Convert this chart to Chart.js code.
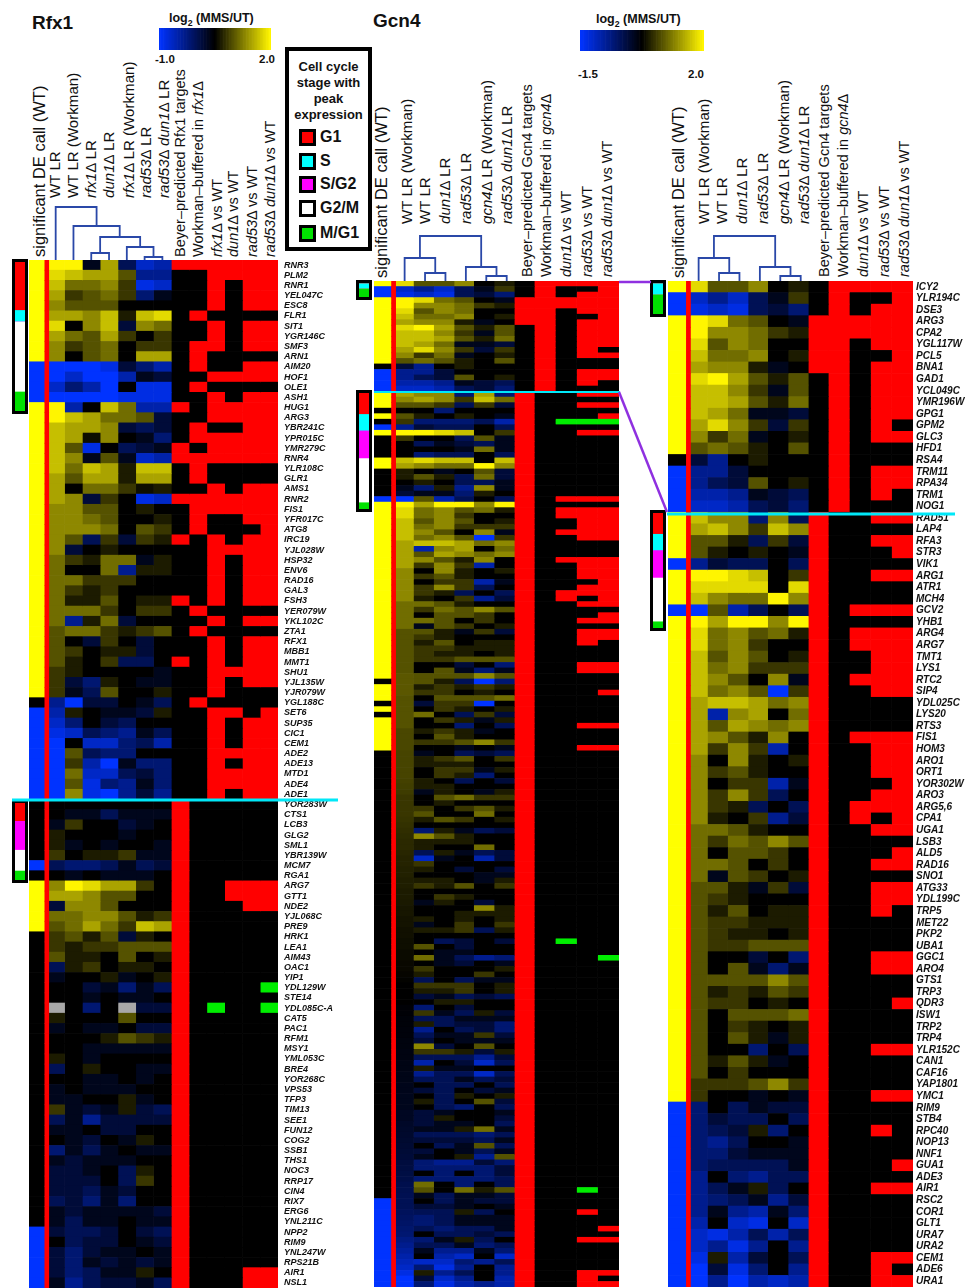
<!DOCTYPE html>
<html>
<head>
<meta charset="utf-8">
<title>Rfx1 / Gcn4</title>
<script src="https://cdn.jsdelivr.net/npm/chart.js@4"></script>
<style>
html, body { margin: 0; width: 965px; height: 1288px; overflow: hidden; background: #fff; }
body { position: relative; font-family: "Liberation Sans", Arial, sans-serif; color: #111; }
canvas { position: absolute; }
.txt { position: absolute; white-space: nowrap; }
.bold { font-weight: bold; }
.rot { position: absolute; white-space: nowrap; transform-origin: 0 0; transform: rotate(-90deg) translateY(-50%); font-size: 14.5px; color: #111; }
.frame { position: absolute; background: #000; }
#keybox { position: absolute; left: 285px; top: 47px; width: 79px; height: 196px; border: 4px solid #000; background: #fff; }
#keybox .head { text-align: center; font-weight: bold; font-size: 13px; line-height: 16px; margin-top: 8px; }
.sw { position: absolute; left: 299px; width: 11px; height: 11px; border: 3px solid #000; }
sub { font-size: 70%; line-height: 0; }
#overlay { position: absolute; left: 0; top: 0; }
</style>
</head>
<body>

<div class="txt bold" style="left:32px;top:12px;font-size:19px">Rfx1</div>
<div class="txt bold" style="left:373px;top:10px;font-size:19px">Gcn4</div>
<div class="txt bold" style="left:169px;top:11px;font-size:12.5px">log<sub>2</sub> (MMS/UT)</div>
<div class="txt bold" style="left:596px;top:12px;font-size:12.5px">log<sub>2</sub> (MMS/UT)</div>
<div class="txt bold" style="left:155px;top:53px;font-size:11.5px">-1.0</div>
<div class="txt bold" style="left:259px;top:53px;font-size:11.5px">2.0</div>
<div class="txt bold" style="left:578px;top:68px;font-size:11.5px">-1.5</div>
<div class="txt bold" style="left:688px;top:68px;font-size:11.5px">2.0</div>

<div id="keybox"><div class="head">Cell cycle<br>stage with<br>peak<br>expression</div></div>
<div id="labels"></div>

<script>
// shade steps: +9 = top of the colour bar, -9 = bottom, null = missing (grey)
const rfxGenes = ["RNR3","PLM2","RNR1","YEL047C","ESC8","FLR1","SIT1","YGR146C","SMF3","ARN1","AIM20","HOF1","OLE1","ASH1","HUG1","ARG3","YBR241C","YPR015C","YMR279C","RNR4","YLR108C","GLR1","AMS1","RNR2","FIS1","YFR017C","ATG8","IRC19","YJL028W","HSP32","ENV6","RAD16","GAL3","FSH3","YER079W","YKL102C","ZTA1","RFX1","MBB1","MMT1","SHU1","YJL135W","YJR079W","YGL188C","SET6","SUP35","CIC1","CEM1","ADE2","ADE13","MTD1","ADE4","ADE1",
  "YOR283W","CTS1","LCB3","GLG2","SML1","YBR139W","MCM7","RGA1","ARG7","GTT1","NDE2","YJL068C","PRE9","HRK1","LEA1","AIM43","OAC1","YIP1","YDL129W","STE14","YDL085C-A","CAT5","PAC1","RFM1","MSY1","YML053C","BRE4","YOR268C","VPS53","TFP3","TIM13","SEE1","FUN12","COG2","SSB1","THS1","NOC3","RRP17","CIN4","RIX7","ERG6","YNL211C","NPP2","RIM9","YNL247W","RPS21B","AIR1","NSL1"];

const rfxCalls = "YYYYYYYYYYBBBBYYYYYYYYYYYYYYYYYYYYYYYYYYYYYKBBBBBBBBB" + "KKKKKKBKYYYYYKKKKKKKKKKKKKKKKKKKKKKKKKKKKKBBBBBB";

const rfxLR = [
[9,9,-1,6,-3,-7,-6],[8,7,6,6,3,-5,-5],[7,4,4,5,2,-8,-7],[6,2,3,4,2,-4,-1],[5,3,3,3,0,0,0],
[6,6,5,7,1,7,8],[8,0,5,7,-2,5,4],[6,4,3,6,2,0,2],[5,2,3,4,0,2,2],[5,0,3,4,0,6,6],
[-9,-9,-9,-8,-2,-4,-6],[-9,-7,-9,-9,-6,-1,-2],[-7,-4,-6,-9,0,-8,-8],[-9,-9,-9,-9,-8,-8,-8],[9,-6,0,7,4,-6,-6],
[9,7,6,4,4,3,-2],[7,6,6,5,-2,-3,-2],[7,6,.5,5,0,-1,-4],[7,3,-8,0,-3,-2,-1],[7,5,-1,3,-1,-7,-6],
[7,4,7,6,1,7,7],[6,3,6,6,1,6,6],[6,0,4,4,2,.5,1],[6,5,-2,2,0,-8,-7],[5,5,3,3,0,1,0],
[5,5,4,3,0,0,1],[5,5,5,4,0,3,2],[5,3,-3,2,-2,2,1],[5,-2,0,1,0,0,0],[4,2,1,4,4,-1,1],
[4,0,0,4,-5,1,1],[4,4,2,2,2,0,0],[4,2,1,2,0,0,0],[4,1,1,3,0,1,1],[4,4,4,2,0,2,2],
[4,-5,1,4,-2,0,0],[3,4,4,2,1,2,3],[3,0,-2,2,0,-2,0],[3,2,0,1,1,-2,0],[3,1,0,2,-3,-3,0],
[2,1,0,0,0,0,-1],[2,-2,-4,1,0,-1,-1],[2,-1,-3,3,0,0,1],[-5,-9,-2,-2,0,-1,-3],[-6,1,0,-1,-1,-2,1],
[-7,-4,0,-2,-3,0,0],[-8,-7,-3,-4,-5,-1,-3],[-9,0,-7,-7,-4,-3,-6],[-9,3,-3,-4,-4,0,0],[-9,2,-6,-9,-1,-4,-4],
[-9,4,-7,-7,-3,-2,-4],[-9,3,-8,-4,-5,-1,-4],[-9,5,-8,-9,-5,-2,-5],
[0,0,0,0,0,0,0],[0,-1,-1,-3,-1,-1,-1],[-1,2,0,0,-2,-1,0],[1,0,0,0,-1,0,0],[1,-1,0,-1,0,0,-1],
[2,0,1,1,2,-1,-1],[-3,-4,-4,-3,-1,-3,-2],[0,-1,0,-1,-1,-1,0],[5,9,8,6,6,2,0],[6,6,5,3,3,0,0],
[-2,5,5,3,0,0,0],[4,4,5,5,3,1,2],[3,4,6,4,2,7,6],[2,3,1,3,-2,1,0],[2,1,2,2,3,3,3],
[3,1,1,0,3,0,1],[-3,1,2,0,1,1,0],[-1,0,0,1,-1,0,1],[0,0,-2,-1,-4,-1,-3],[0,0,-1,0,-1,-1,0],
[null,0,-4,0,null,-2,-2],[1,0,0,0,3,0,0],[-1,0,-1,-1,0,-2,-2],[0,0,0,1,3,2,1],[0,0,-1,-1,-1,-1,-1],
[1,0,-1,0,0,0,0],[-3,0,1,0,0,-1,-1],[0,0,-1,-1,0,-1,0],[-1,0,-1,-1,-1,0,0],[-1,-1,0,0,1,-1,0],
[2,-1,-2,-1,1,-2,-3],[-3,-1,-5,-2,-2,-2,-2],[-1,-1,0,-2,-2,0,0],[0,-1,-2,0,-1,1,0],[-4,-1,-3,-1,0,-1,-1],
[-1,-2,-1,-1,-1,0,0],[-2,-2,-1,0,-3,1,0],[-2,-2,-2,0,-3,2,0],[-2,-2,-3,-1,-2,0,0],[-3,-2,-4,-1,-4,0,0],
[-1,-2,-1,-1,-1,-1,-2],[-1,-3,-1,-1,0,-1,-1],[-2,-3,-3,-2,0,-2,-3],[0,-3,-2,-2,0,-1,-2],[-2,-4,-2,-1,-1,0,-1],
[-2,-4,-1,-2,-1,-2,-1],[-2,-4,-3,-1,-1,1,0],[-1,-5,-3,-2,-2,-1,-3]
];

// Beyer, Workman, rfx1 vs WT, dun1 vs WT, rad53 vs WT, rad53 dun1 vs WT: 0 none, 1 red, 2 green
const rfxFlags = ["111111","001111","001011","001011","001011","010000","001011","001011","011011","010000","010011","001111","010000","001011","101111","001111","010011","011111","101111","111111","010000","010000","001011","111111","011111","010011","010001","101011","001111","001011","001011","001011","001011","101011","010000","001011","010000","001011","001011","101011","001111","001011","001000","010000","001101","001011","001011","001011","001111","001011","001111","001111","001011",
  "100000","100000","100000","100000","100000","100000","100000","100000","100111","100111","100011","100000","100000","100000","100000","100000","100000","100000","100002","100000","102002","100000","100000","100000","100000","100000","100000","100000","100000","100000","100000","100000","100000","100000","100000","100000","100000","100000","100000","100000","100000","100000","100000","100000","100000","100000","100011","100011"];

const gcnGenes = ["ICY2","YLR194C","DSE3","ARG3","CPA2","YGL117W","PCL5","BNA1","GAD1","YCL049C","YMR196W","GPG1","GPM2","GLC3","HFD1","RSA4","TRM11","RPA34","TRM1","NOG1",
  "RAD51","LAP4","RFA3","STR3","VIK1","ARG1","ATR1","MCH4","GCV2","YHB1","ARG4","ARG7","TMT1","LYS1","RTC2","SIP4","YDL025C","LYS20","RTS3","FIS1","HOM3","ARO1","ORT1","YOR302W","ARO3","ARG5,6","CPA1","UGA1","LSB3","ALD5","RAD16","SNO1","ATG33","YDL199C","TRP5","MET22","PKP2","UBA1","GGC1","ARO4","GTS1","TRP3","QDR3","ISW1","TRP2","TRP4","YLR152C","CAN1","CAF16","YAP1801","YMC1","RIM9","STB4","RPC40","NOP13","NNF1","GUA1","ADE3","AIR1","RSC2","COR1","GLT1","URA7","URA2","CEM1","ADE6","URA1"];

const gcnCalls = "YBBYYYYYYYYYYYYKBBBB" + "YYYYBYYYB" + "YYYYYYYYYYYYYYYYYYYYYYYYYYYYYYYYYYYYYYYYYY" + "BBBBBBBBBBBBBBBB";

const gcnLR = [
[8,3,3,5,0,1],[-7,-5,-7,-3,-1,2],[-8,-7,-8,-3,-2,-4],[9,8,4,3,0,-1],[9,5,5,4,2,1],
[8,3,5,4,0,0],[7,4,4,5,0,1],[6,5,5,1,-1,0],[8,9,6,3,1,3],[7,7,5,2,-1,3],
[7,7,6,3,1,4],[7,6,4,-1,-1,-2],[6,8,5,2,-2,2],[5,2,4,-1,0,1],[3,4,3,1,0,3],
[-2,-5,0,1,0,0],[-5,-5,-2,0,0,0],[-5,-3,-2,3,0,1],[-6,-6,-5,-1,-2,-3],[-7,-7,-6,-3,-2,-4],
[7,5,5,-4,5,-3],[6,7,5,2,7,5],[3,3,1,-3,2,-2],[3,1,0,1,0,-1],[-5,-2,-3,-3,0,-3],
[9,9,8,7,0,2],[8,8,8,8,0,8],[7,5,4,4,9,5],[-9,3,-6,-3,0,-3],[9,6,9,9,5,9],
[8,4,5,3,4,1],[8,4,5,2,0,0],[7,3,5,3,0,1],[7,4,5,2,2,2],[7,5,3,0,5,-1],
[7,4,5,3,-9,2],[6,7,7,6,4,5],[6,-6,5,6,0,4],[6,3,6,5,4,5],[6,5,3,1,5,0],
[6,2,5,2,-6,0],[5,0,5,1,0,1],[5,2,3,1,0,0],[5,0,2,2,-6,-1],[5,2,5,2,-3,0],
[5,2,1,-3,0,-3],[5,1,0,2,-5,-2],[4,4,3,1,0,0],[4,2,4,3,5,3],[4,0,3,3,2,0],
[4,4,3,0,2,0],[4,-1,3,2,0,1],[3,3,1,-1,2,-2],[3,2,1,0,0,0],[3,1,3,0,1,1],
[3,2,2,1,1,1],[3,2,1,1,0,1],[3,2,2,3,3,3],[3,0,0,-2,0,-4],[3,0,3,-1,-4,-1],
[3,3,3,3,5,3],[3,1,2,1,3,2],[3,2,2,0,1,0],[3,0,3,3,3,4],[3,0,2,1,0,1],
[3,0,3,1,-1,1],[3,0,0,-4,0,-3],[3,1,3,1,-1,0],[3,0,2,0,0,0],[2,2,2,3,5,2],
[2,0,0,-1,0,-1],[-4,0,-3,-1,-2,-2],[-4,-2,-3,-3,0,-3],[-4,-3,-2,1,-4,0],[-4,-5,-3,0,0,-1],
[-4,-4,-2,-1,-1,-1],[-4,-3,-3,-3,-3,-1],[-5,0,-4,-5,-3,-3],[-5,-3,-1,1,-3,0],[-5,-4,-3,-1,-5,-2],
[-5,-1,-5,-6,-1,-4],[-6,0,-7,-8,0,-7],[-7,-8,-6,-3,-6,-3],[-7,-5,-8,-5,0,-5],[-8,1,-6,-2,0,-3],
[-9,-2,-8,-4,0,-5],[-9,-5,-9,-6,-7,-6]
];

// Beyer, Workman, dun1 vs WT, rad53 vs WT, rad53 dun1 vs WT
const gcnFlags = ["01111","01001","01011","11111","11111","11011","11001","11011","01011","01011","01011","01011","01010","01011","01000","01000","01011","01011","01010","01000",
  "10011","10000","10011","10001","10000","10011","10000","10000","10111","10000","10111","10111","10011","10011","10111","10011","10000","10000","10000","10111","10011","10011","10011","10001","10011","10111","10101","10011","10000","10001","10011","10000","10011","10011","10010","10000","10000","10000","10011","10011","10000","10000","10001","10000","10000","10000","10011","10000","10000","10000","10011","10000","10000","10010","10000","10000","10001","10000","10011","10000","10000","10000","10000","10000","10011","10010","10011"];

// rows of the long Gcn4 column that are not repeated in the enlarged one
const overviewMidCalls = "YYYKYKBYKKKKYYKKKKKB";
const overviewMidLR = [
[6,5,5,-4,6,-4],[5,6,5,2,7,4],[3,3,2,-3,2,-2],[0,0,-4,0,0,0],[3,1,0,1,0,-1],
[2,-4,-4,-4,-3,-6],[-5,-2,-3,-3,0,-3],[9,9,8,7,0,2],[2,0,0,-3,3,-1],[0,-3,-1,-2,-3,-1],
[0,0,0,-1,4,-1],[0,-4,-3,-3,0,-3],[7,8,7,7,0,7],[6,5,4,4,9,5],[1,0,-1,0,3,-2],
[1,3,1,-3,4,-2],[0,1,0,-3,-3,-1],[-1,-4,1,-5,5,-1],[-2,-1,-1,-4,1,0],[-9,3,-6,-3,0,-3]
];
const overviewMidFlags = ["10011","10000","10011","10000","10001","10222","10000","10011","10000","10000","10000","10000","10000","10000","10000","10000","10000","10000","10000","10111"];

const overviewRestCalls = "YKYYYKYKYYYYYY" + "K".repeat(81) + "B".repeat(16);
const overviewRestLR = [
[3.2,3,3,3,5,3],[3.2,3,1,-3,-9,-4],[3.2,1,2,1,2,1],[3.2,2,2,0,1,0],[3,0,3,3,3,4],
[3,-2,2,2,-9,0],[3,0,2,1,0,1],[3,4,0,-3,2,-2],[3,0,2,1,-1,1],[3,0,0,-4,0,-3],
[2.6,1,2,1,-1,0],[2.6,0,3,1,0,0],[2.6,2,2,3,5,2],[2.6,0,0,-1,0,-1],[2.5,-1,0,-3,-2,-3],
[2.5,1,2,3,0,2],[2.5,1,1,1,0,0],[2.5,0,2,2,-1,1],[2.5,0,2,1,-4,0],[2.4,1,0,-3,0,-2],
[2.3,1,1,0,0,0],[2.2,-1,1,0,-1,1],[2,0,3,4,2,2],[2,0,1,0,0,0],[2,2,0,2,3,1],
[2,3,0,0,4,0],[1.9,1,3,2,0,1],[1.8,0,0,0,0,0],[1.7,-4,1,-1,-3,-2],[1.6,5,3,1,0,0],
[1.5,1,1,1,0,0],[1.5,1,0,0,4,0],[1.4,-3,1,-1,-3,-2],[1.3,-7,-1,0,-6,-2],[1.3,2,0,0,0,0],
[1.2,1,0,-2,0,-2],[1.2,0,0,0,-1,-1],[1.1,1,1,0,-1,1],[1.1,2,1,3,0,2],[1,0,0,0,0,0],
[1,0,2,1,0,0],[.9,-1,1,0,-2,0],[.8,0,0,0,5,1],[.8,0,0,1,1,1],[.7,1,0,1,0,1],
[.7,-1,0,2,0,2],[.6,1,1,2,-3,1],[.6,0,0,0,0,0],[.5,0,-3,-2,0,-2],[.5,3,0,-2,0,0],
[.4,0,-1,-1,0,0],[.4,4,-1,-3,-5,-4],[.3,0,-1,-2,0,-1],[.3,2,0,0,0,1],[.2,1,0,0,2,0],
[.1,-3,0,-3,-1,-1],[0,2,2,2,0,1],[0,1,1,2,0,1],[0,-2,-1,-3,-2,-3],[0,0,1,1,0,0],
[-.2,-4,0,-2,0,0],[-.2,2,-1,-3,1,-2],[-.3,-3,-3,-1,-1,-1],[-.3,1,-3,-2,-2,-4],[-.4,-5,0,-3,-2,-4],
[-.4,-3,-1,-1,2,-2],[-.5,-2,0,-1,-1,-1],[-.5,5,-2,0,3,0],[-.6,2,2,1,-2,1],[-.6,-3,-3,-3,-5,-2],
[-.7,-6,0,-2,-7,-3],[-.7,1,-1,-1,0,0],[-.8,-5,-3,-3,-7,-3],[-.8,-3,-3,-1,-3,-2],[-.9,0,-3,-3,0,-3],
[-.9,-2,-3,0,-2,-1],[-1,0,-3,1,0,1],[-1,1,-3,0,3,-2],[-1,0,-3,-4,0,-3],[-1.2,-2,-1,0,0,-1],
[-1.2,-2,1,0,0,-2],[-1.4,-2,-1,-1,0,-3],[-1.5,-1,-1,1,4,-1],[-1.6,-3,-3,-3,-4,-3],[-1.7,-2,-2,-2,-3,-1],
[-1.8,0,-3,-1,3,-3],[-1.9,-2,0,-1,-3,-1],[-2,-1,0,1,-5,3],[-2.2,-4,-5,-5,-2,-4],[-2.3,-4,-4,-4,-4,-2],
[-2.4,0,-4,0,-4,-2],[-2.5,-4,-4,-4,-4,-3],[-2.7,4,0,-4,0,-3],[-2.8,3,0,4,1,3],[-2.9,-1,-3,-1,-1,-2],
[-3,0,-3,-1,-2,-2],[-3,-2,-2,-1,0,-1],[-3.2,-3,-3,1,-3,0],[-3.4,-4,-3,-1,-1,-1],[-3.6,-4,-3,-1,-1,-1],
[-3.8,-3,-4,-3,-3,-1],[-4,0,-3,-3,-2,-3],[-4.5,-4,-1,1,-3,0],[-5,-3,-3,-1,-4,-3],[-5.5,-1,-5,-5,-1,-4],
[-6,0,-6,-7,0,-7],[-6.5,-7,-7,-4,-5,-3],[-7,-4,-8,-5,0,-5],[-8,1,-5,-3,0,-5],[-9,-2,-7,-5,0,-6],
[-9,-4,-8,-6,-5,-6]
];
// row number in the long column -> flags, every other row is "10000"
const overviewRestHits = {74:"10001",80:"10011",84:"10011",119:"10200",122:"10002",164:"10020",168:"10010",171:"10001",173:"10011",179:"10011",180:"10010",181:"10011"};

// genes per stage: G1, S, S/G2, G2/M, M/G1
const stageRfxTop = [17,4,0,25,7];
const stageRfxBottom = [11,0,18,13,6];
const stageGcnTop = [0,7,0,0,13];
const stageGcnBottom = [24,19,32,51,8];

// dendrograms: [left x, left height, right x, right height, top] in column units
const dendroRfx = [[6.5,0,7.5,0,3],[5.5,0,7,3,13],[3.5,0,4.5,0,7],[4,7,6.25,13,23],[2.5,0,5.1,23,34],[1.5,0,3.8,34,53]];
const dendroGcn = [[2.5,0,3.5,0,8],[1.5,0,3,8,23],[5.5,0,6.5,0,5],[4.5,0,6,5,14],[2.25,23,5.25,14,45]];

const rfxColumnLabels = [
  ["significant DE call (WT)",39,257,16.5],["WT LR",54,198,15.1],["WT LR (Workman)",72,198,15.1],["<i>rfx1</i>Δ LR",90,198,15.1],["<i>dun1</i>Δ LR",108,198,15.1],["<i>rfx1</i>Δ LR (Workman)",128,198,15.1],["<i>rad53</i>Δ LR",145,198,15.1],["<i>rad53</i>Δ <i>dun1</i>Δ LR",163,198,15.1],
  ["Beyer–predicted Rfx1 targets",180,257],["Workman–buffered in <i>rfx1</i>Δ",198,257],["<i>rfx1</i>Δ vs WT",217,257],["<i>dun1</i>Δ vs WT",233,257],["<i>rad53</i>Δ vs WT",252,257],["<i>rad53</i>Δ <i>dun1</i>Δ vs WT",270,257]
];
const gcnColumnLabels = [
  ["significant DE call (WT)",35,278,16.5],["WT LR (Workman)",60,224,15.1],["WT LR",78,224,15.1],["<i>dun1</i>Δ LR",98,224,15.1],["<i>rad53</i>Δ LR",119,224,15.1],["<i>gcn4</i>Δ LR (Workman)",140,224,15.1],["<i>rad53</i>Δ <i>dun1</i>Δ LR",160,224,15.1],
  ["Beyer–predicted Gcn4 targets",181,277],["Workman–buffered in <i>gcn4</i>Δ",200,277],["<i>dun1</i>Δ vs WT",220,277],["<i>rad53</i>Δ vs WT",241,277],["<i>rad53</i>Δ <i>dun1</i>Δ vs WT",261,277]
];

const stageNames = ["G1","S","S/G2","G2/M","M/G1"];
const stageColors = ["#ff0000","#00ffff","#ff00ff","#ffffff","#00e000"];
const flagColors = { "0": "#000000", "1": "#ff0000", "2": "#00ee00" };
const callColors = { Y: "#ffff00", B: "#0033ff", K: "#000000" };
const gcnEdges = [0,.97,1.93,2.92,3.92,4.88,5.88,6.87,7.85,8.88,9.92,10.95,12];
const rfxEdges = [0,1,2,3,4,5,6,7,8,9,10,11,12,13,14];

function shadeColor(v) {
    if (v === null) return "#a8a8a8";
    const t = Math.abs(v) / 9;
    if (v >= 0) return `rgb(${Math.round(255 * t)},${Math.round(245 * t)},0)`;
    return `rgb(0,${Math.round(51 * t)},${Math.round(255 * t)})`;
}

function addCanvas(left, top, width, height) {
    const c = document.createElement("canvas");
    c.width = width;
    c.height = height;
    c.style.left = left + "px";
    c.style.top = top + "px";
    c.style.width = width + "px";
    c.style.height = height + "px";
    document.body.appendChild(c);
    return c;
}

const baseOptions = {
    responsive: false,
    animation: false,
    events: [],
    plugins: { legend: { display: false }, tooltip: { enabled: false } }
};

function heatmap(p) {
    const rowColors = [
        { colors: p.calls.split("").map(c => callColors[c]) }
    ];
    p.lr[0].forEach((_, i) => rowColors.push({ colors: p.lr.map(r => shadeColor(r[i])) }));
    p.flags[0].split("").forEach((_, i) => rowColors.push({ colors: p.flags.map(f => flagColors[f[i]]) }));

    const datasets = rowColors.map((col, i) => ({
        data: p.lr.map(() => [p.edges[i], p.edges[i + 1]]),
        backgroundColor: col.colors,
        borderWidth: 0,
        barPercentage: 1,
        categoryPercentage: 1,
        grouped: false
    }));
    // red marker line that runs down the call column, drawn over the cells
    datasets.push({
        data: p.lr.map(() => [p.line - p.lineWidth, p.line + p.lineWidth]),
        backgroundColor: "#ff0000",
        borderWidth: 0,
        barPercentage: 1,
        categoryPercentage: 1,
        grouped: false,
        order: -1
    });

    const width = p.width + (p.labelWidth || 0);
    new Chart(addCanvas(p.left, p.top, width, p.height), {
        type: "bar",
        data: { labels: p.genes, datasets },
        options: {
            ...baseOptions,
            indexAxis: "y",
            scales: {
                x: { type: "linear", display: false, min: 0, max: p.edges[p.edges.length - 1] },
                y: {
                    display: !!p.labelWidth,
                    position: "right",
                    grid: { display: false, drawTicks: false },
                    border: { display: false },
                    ticks: { autoSkip: false, padding: p.labelPad, color: "#111", font: { family: "Liberation Sans", size: p.labelSize, style: "italic", weight: "bold" } },
                    afterFit: s => { s.width = p.labelWidth || 0; s.paddingTop = 0; s.paddingBottom = 0; }
                }
            }
        }
    });
}

function stageBar(left, top, width, height, counts) {
    // black frame sits behind the canvas, a border on the canvas itself shrinks the chart
    const frame = document.createElement("div");
    frame.className = "frame";
    frame.style.cssText = `left:${left - 3}px;top:${top - 3}px;width:${width + 6}px;height:${height + 6}px`;
    document.body.appendChild(frame);
    new Chart(addCanvas(left, top, width, height), {
        type: "bar",
        data: {
            labels: [""],
            datasets: counts.map((n, i) => ({ label: stageNames[i], data: [n], backgroundColor: stageColors[i], borderWidth: 0, barPercentage: 1, categoryPercentage: 1 }))
        },
        options: {
            ...baseOptions,
            scales: {
                x: { stacked: true, display: false },
                y: { stacked: true, display: false, reverse: true, min: 0, max: counts.reduce((a, b) => a + b, 0) }
            }
        }
    });
}

function dendrogram(left, top, width, height, maxX, links) {
    new Chart(addCanvas(left, top, width, height), {
        type: "scatter",
        data: {
            datasets: links.map(l => ({
                data: [{ x: l[0], y: l[1] }, { x: l[0], y: l[4] }, { x: l[2], y: l[4] }, { x: l[2], y: l[3] }],
                showLine: true,
                borderColor: "#2a48a8",
                borderWidth: 1.8,
                pointRadius: 0,
                tension: 0
            }))
        },
        options: {
            ...baseOptions,
            scales: {
                x: { type: "linear", display: false, min: 0, max: maxX },
                y: { type: "linear", display: false, min: 0, max: height }
            }
        }
    });
}

function colorBar(left, top, width, height) {
    const steps = [];
    for (let s = -9; s <= 9; s += 0.25) steps.push(s);
    new Chart(addCanvas(left, top, width, height), {
        type: "bar",
        data: {
            labels: steps,
            datasets: [{ data: steps.map(() => 1), backgroundColor: steps.map(shadeColor), borderWidth: 0, barPercentage: 1, categoryPercentage: 1 }]
        },
        options: { ...baseOptions, scales: { x: { display: false }, y: { display: false, min: 0, max: 1 } } }
    });
}

function columnLabels(list, offset) {
    const box = document.getElementById("labels");
    list.forEach(l => {
        const d = document.createElement("div");
        d.className = "rot";
        d.innerHTML = l[0];
        d.style.left = (l[1] + offset) + "px";
        d.style.top = l[2] + "px";
        if (l[3]) d.style.fontSize = l[3] + "px";
        box.appendChild(d);
    });
}

// Rfx1 panel
heatmap({ left: 29, top: 260, width: 249, height: 1028, labelWidth: 60, labelPad: 6, labelSize: 9, genes: rfxGenes, calls: rfxCalls, lr: rfxLR, flags: rfxFlags, edges: rfxEdges, line: 1, lineWidth: 0.11 });

// Gcn4 long column, repeats rows of the enlarged one where the genes are the same
const overviewCalls = gcnCalls.slice(0, 20) + overviewMidCalls + gcnCalls.slice(29, 60) + overviewRestCalls;
const overviewLR = [...gcnLR.slice(0, 20), ...overviewMidLR, ...gcnLR.slice(29, 60), ...overviewRestLR];
const overviewFlags = [...gcnFlags.slice(0, 20), ...overviewMidFlags, ...gcnFlags.slice(29, 60), ...overviewRestLR.map((_, i) => overviewRestHits[i + 71] || "10000")];
heatmap({ left: 374, top: 281, width: 245, height: 1006, genes: overviewLR.map((_, i) => String(i)), calls: overviewCalls, lr: overviewLR, flags: overviewFlags, edges: gcnEdges, line: 0.96, lineWidth: 0.1 });

// Gcn4 enlarged column
heatmap({ left: 668, top: 281, width: 245, height: 1006, labelWidth: 52, labelPad: 3, labelSize: 10, genes: gcnGenes, calls: gcnCalls, lr: gcnLR, flags: gcnFlags, edges: gcnEdges, line: 1, lineWidth: 0.1 });

stageBar(15, 262, 10, 149, stageRfxTop);
stageBar(15, 803, 10, 77, stageRfxBottom);
stageBar(359, 283, 10, 14, stageGcnTop);
stageBar(359, 393, 10, 116, stageGcnBottom);
stageBar(653, 283, 10, 31, stageGcnTop);
stageBar(653, 513, 10, 115, stageGcnBottom);

dendrogram(29, 200, 249, 60, 14, dendroRfx);
dendrogram(374, 231, 245, 50, 12, dendroGcn);
dendrogram(668, 231, 245, 50, 12, dendroGcn);

colorBar(159, 28, 112, 22);
colorBar(580, 30, 124, 21);

columnLabels(rfxColumnLabels, 0);
columnLabels(gcnColumnLabels, 346);
columnLabels(gcnColumnLabels, 643);

// key box
const keyY = [137, 161, 184, 208, 233];
stageNames.forEach((name, i) => {
    const sw = document.createElement("div");
    sw.className = "sw";
    sw.style.top = (keyY[i] - 8) + "px";
    sw.style.background = stageColors[i];
    document.body.appendChild(sw);
    const t = document.createElement("div");
    t.className = "txt bold";
    t.style.cssText = `left:320px;top:${keyY[i] - 9}px;font-size:16px`;
    t.textContent = name;
    document.body.appendChild(t);
});
</script>

<svg id="overlay" width="965" height="1288">
  <line x1="12" y1="800" x2="338" y2="800" stroke="#00e8f8" stroke-width="3"/>
  <line x1="374" y1="392" x2="620" y2="392" stroke="#00e8f8" stroke-width="2"/>
  <line x1="667" y1="514" x2="955" y2="514" stroke="#00e8f8" stroke-width="3"/>
  <line x1="619" y1="282" x2="651" y2="282" stroke="#8f30e0" stroke-width="2.5"/>
  <line x1="619" y1="392" x2="667" y2="512" stroke="#8f30e0" stroke-width="2.5"/>
</svg>
</body>
</html>
